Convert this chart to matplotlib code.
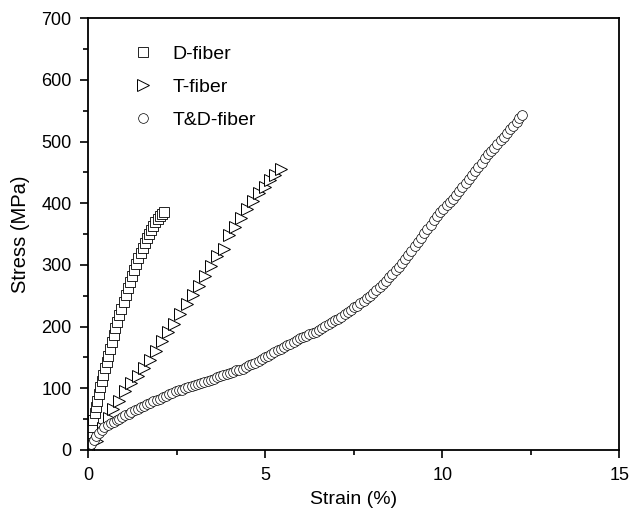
import matplotlib
matplotlib.use('Agg')
import matplotlib.pyplot as plt
from matplotlib.ticker import MultipleLocator

# D-fiber (squares)
d_strain = [0.02, 0.05, 0.08, 0.11, 0.14, 0.18, 0.22, 0.26, 0.30, 0.34, 0.38, 0.42,
            0.47, 0.52, 0.57, 0.62, 0.67, 0.72, 0.77, 0.82, 0.88, 0.94, 1.00, 1.06,
            1.12, 1.18, 1.24, 1.30, 1.36, 1.42, 1.48, 1.54, 1.60, 1.66, 1.72, 1.78,
            1.84, 1.90, 1.96, 2.02, 2.08, 2.13]
d_stress = [5, 15, 28, 38, 48, 60, 70, 80, 91, 102, 112, 122,
            133, 143, 153, 163, 175, 186, 197, 207, 218, 229, 240, 251,
            262, 272, 282, 292, 302, 311, 320, 328, 336, 343, 350, 357,
            363, 369, 374, 379, 383, 386]

# T-fiber (triangles)
t_strain = [0.25, 0.42, 0.58, 0.71, 0.88, 1.05, 1.22, 1.40, 1.57, 1.74, 1.92, 2.09,
            2.26, 2.43, 2.60, 2.78, 2.95, 3.12, 3.30, 3.47, 3.64, 3.83, 3.97, 4.14,
            4.31, 4.48, 4.65, 4.82, 4.98, 5.13, 5.28, 5.44]
t_stress = [15, 35, 52, 66, 80, 95, 108, 120, 133, 146, 161, 176,
            191, 205, 220, 236, 251, 266, 282, 299, 314, 326, 348, 362,
            376, 390, 404, 416, 427, 437, 446, 456]

# T&D-fiber (circles)
td_strain = [0.00, 0.08, 0.15, 0.22, 0.30, 0.38, 0.46, 0.55, 0.63, 0.72, 0.80, 0.88,
             0.96, 1.05, 1.14, 1.22, 1.31, 1.40, 1.48, 1.57, 1.66, 1.75, 1.84, 1.93,
             2.02, 2.11, 2.20, 2.29, 2.38, 2.47, 2.56, 2.65, 2.74, 2.83, 2.92, 3.01,
             3.10, 3.19, 3.28, 3.37, 3.46, 3.55, 3.64, 3.73, 3.82, 3.91, 4.00, 4.09,
             4.18, 4.27, 4.36, 4.45, 4.54, 4.63, 4.72, 4.81, 4.90, 4.99, 5.08, 5.17,
             5.26, 5.35, 5.44, 5.53, 5.62, 5.71, 5.80, 5.89, 5.98, 6.07, 6.16, 6.25,
             6.34, 6.43, 6.52, 6.61, 6.70, 6.79, 6.88, 6.97, 7.06, 7.15, 7.24, 7.33,
             7.42, 7.51, 7.60, 7.69, 7.78, 7.87, 7.96, 8.05, 8.14, 8.23, 8.32, 8.41,
             8.50, 8.59, 8.68, 8.77, 8.86, 8.95, 9.04, 9.13, 9.22, 9.31, 9.40, 9.49,
             9.58, 9.67, 9.76, 9.85, 9.94, 10.03, 10.12, 10.21, 10.30, 10.39, 10.48, 10.57,
             10.66, 10.75, 10.84, 10.93, 11.02, 11.11, 11.20, 11.29, 11.38, 11.47, 11.56, 11.65,
             11.74, 11.83, 11.92, 12.01, 12.10, 12.18, 12.26]
td_stress = [3, 9, 16, 22, 27, 32, 37, 40, 43, 46, 48, 51,
             53, 56, 59, 61, 64, 67, 69, 71, 74, 76, 79, 81,
             83, 86, 88, 90, 92, 95, 97, 98, 100, 102, 103, 105,
             107, 108, 110, 112, 114, 115, 118, 120, 122, 123, 125, 127,
             129, 130, 132, 134, 137, 139, 141, 144, 147, 150, 153, 156,
             159, 162, 164, 167, 170, 172, 175, 178, 181, 183, 185, 188,
             190, 192, 195, 198, 201, 204, 207, 210, 213, 216, 220, 224,
             227, 231, 234, 238, 242, 246, 250, 254, 259, 264, 269, 274,
             280, 285, 291, 297, 303, 309, 316, 323, 330, 337, 344, 351,
             358, 365, 372, 379, 385, 391, 397, 402, 407, 413, 420, 426,
             432, 439, 445, 452, 459, 466, 473, 479, 484, 490, 496, 502,
             508, 514, 520, 526, 532, 538, 543]

plt.rcParams['font.family'] = ['Liberation Sans', 'DejaVu Sans']

fig = plt.figure(figsize=(6.3, 5.19), dpi=100)
ax = fig.add_axes([0.140, 0.133, 0.843, 0.832])

ax.plot(d_strain, d_stress, 's', ms=6.5, mfc='white', mec='black', mew=0.6,
        label='D-fiber')
ax.plot(t_strain, t_stress, '>', ms=8, mfc='white', mec='black', mew=0.7,
        label='T-fiber')
ax.plot(td_strain, td_stress, 'o', ms=7, mfc='white', mec='black', mew=0.5,
        label='T&D-fiber')

ax.set_xlim(0, 15)
ax.set_ylim(0, 700)
ax.xaxis.set_major_locator(MultipleLocator(5))
ax.xaxis.set_minor_locator(MultipleLocator(2.5))
ax.yaxis.set_major_locator(MultipleLocator(100))
ax.yaxis.set_minor_locator(MultipleLocator(50))
ax.tick_params(which='major', direction='out', length=6, width=1.2,
               labelsize=13, pad=6)
ax.tick_params(which='minor', direction='out', length=3.5, width=1.2)
for s in ax.spines.values():
    s.set_linewidth(1.3)

ax.set_xlabel('Strain (%)', fontsize=14, labelpad=5)
ax.set_ylabel('Stress (MPa)', fontsize=14.5, labelpad=8)

ax.legend(loc='upper left', frameon=False, fontsize=14, handletextpad=0.9,
          borderaxespad=0, labelspacing=0.78, handlelength=1.2,
          bbox_to_anchor=(0.067, 0.955))

fig.savefig('out.png', dpi=100)
